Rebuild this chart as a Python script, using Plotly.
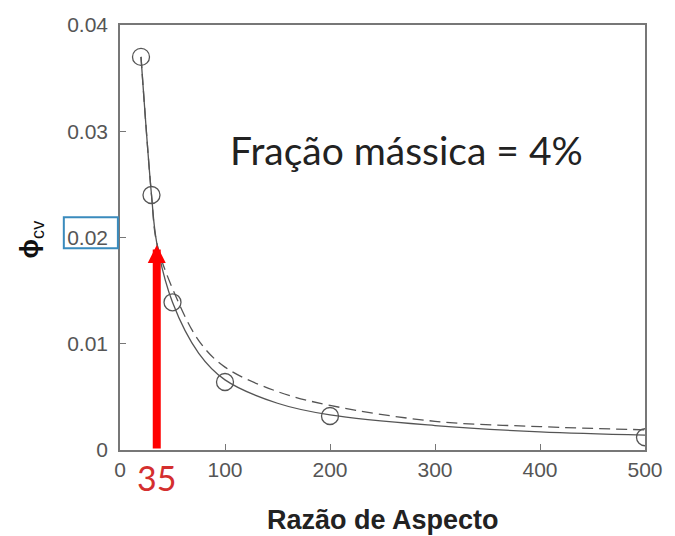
import plotly.graph_objects as go

# Measured points (aspect ratio vs. critical volume fraction)
razao = [20, 30, 50, 100, 200, 500]
phi_cv = [0.037, 0.024, 0.0139, 0.0064, 0.0032, 0.0012]

# Fitted curves
x_fit = [20, 30, 35, 50, 75, 100, 150, 200, 300, 400, 500]
y_fit_solid = [0.037, 0.024, 0.0195, 0.0139, 0.0091, 0.0066, 0.0044, 0.0033, 0.0023, 0.0017, 0.0014]
y_fit_dash = [0.037, 0.024, 0.0195, 0.0152, 0.0103, 0.0078, 0.0055, 0.0042, 0.0027, 0.0022, 0.0019]

# Highlighted aspect ratio and its value
x_marca = 35
y_marca = 0.0193

x_ticks = [0, 100, 200, 300, 400, 500]
y_ticks = [0, 0.01, 0.02, 0.03, 0.04]

cinza = "#555555"

fig = go.Figure()
fig.add_trace(go.Scatter(x=x_fit, y=y_fit_solid, mode="lines", line_shape="spline",
                         line=dict(color=cinza, width=1.3), hoverinfo="skip"))
fig.add_trace(go.Scatter(x=x_fit, y=y_fit_dash, mode="lines", line_shape="spline",
                         line=dict(color=cinza, width=1.3, dash="11px,6px"), hoverinfo="skip"))
fig.add_trace(go.Scatter(x=razao, y=phi_cv, mode="markers",
                         marker=dict(symbol="circle-open", size=17, color=cinza,
                                     line=dict(width=1.3, color=cinza))))

# Red arrow pointing up to the curve
fig.add_annotation(x=x_marca, y=y_marca, ax=x_marca, ay=0, xref="x", yref="y",
                   axref="x", ayref="y", text="", showarrow=True,
                   arrowhead=2, arrowsize=0.45, arrowwidth=8, arrowcolor="#ff0000")
fig.add_annotation(x=x_marca, y=0, xref="x", yref="y", text=str(x_marca),
                   showarrow=False, yshift=-27,
                   font=dict(family="Lato", size=34, color="#d42f2f"))

fig.add_annotation(x=0.545, y=0.0282, xref="paper", yref="y",
                   text="Fração mássica = 4%", showarrow=False,
                   font=dict(family="Lato", size=39, color="#222222"))

# Axis titles
fig.add_annotation(x=0.5, y=-0.165, xref="paper", yref="paper", yanchor="middle",
                   text="<b>Razão de Aspecto</b>", showarrow=False,
                   font=dict(family="Liberation Sans", size=27, color="#222222"))
fig.add_annotation(x=-0.205, y=0.0199, xref="paper", yref="y",
                   text="<b>ϕ</b><sub>cv</sub>", textangle=-90, showarrow=False,
                   font=dict(family="Liberation Sans", size=26, color="#111111"))

# Box around the 0.02 tick label
fig.add_shape(type="rect", xref="paper", yref="y", x0=-0.107, x1=-0.004,
              y0=0.0190, y1=0.0219, line=dict(color="#3a8bbd", width=2))

fig.update_layout(
    width=675, height=536, margin=dict(l=120, r=22, t=25, b=86),
    paper_bgcolor="white", plot_bgcolor="white", showlegend=False,
    font=dict(family="Liberation Sans", size=21, color=cinza),
)
fig.update_xaxes(range=[0, 500], tickvals=x_ticks, ticks="inside", ticklen=6,
                 tickcolor="#777777", showline=True, linecolor="#777777", linewidth=1.5,
                 mirror=True, showgrid=False, zeroline=False)
fig.update_yaxes(range=[0, 0.04], tickvals=y_ticks, ticktext=["0", "0.01", "0.02", "0.03", "0.04"],
                 ticks="inside", ticklen=6, tickcolor="#777777", showline=True,
                 linecolor="#777777", linewidth=1.5, mirror=True, showgrid=False,
                 zeroline=False, ticklabelstandoff=6)

fig.write_html("out.html")
